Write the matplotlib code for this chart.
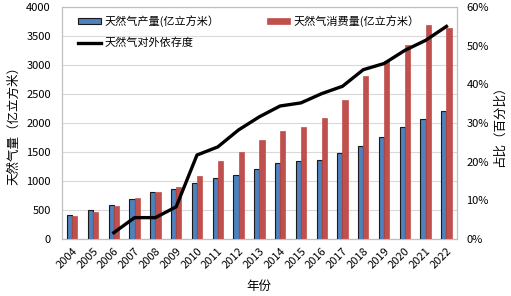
import matplotlib
matplotlib.use("Agg")
import matplotlib.pyplot as plt
import numpy as np

plt.rcParams['font.family'] = ['Noto Sans CJK SC', 'DejaVu Sans']

# data
years = [str(y) for y in range(2004, 2023)]
production = [415, 493, 585, 692, 803, 853, 957, 1053, 1106, 1209, 1302,
              1346, 1369, 1480, 1602, 1762, 1925, 2076, 2201]
consumption = [397, 467, 573, 705, 813, 895, 1080, 1341, 1497, 1705, 1868,
               1932, 2078, 2394, 2817, 3064, 3340, 3690, 3646]
dep_years = years[2:]
dependence = [1.6, 5.5, 5.5, 8.3, 21.7, 23.8, 28.2, 31.6, 34.4, 35.2, 37.6,
              39.5, 43.8, 45.4, 48.8, 51.4, 55.0]

fig = plt.figure(figsize=(5.11, 2.96), dpi=100)
ax = fig.add_axes([0.121, 0.193, 0.773, 0.783])

x = np.arange(len(years))
w = 0.25
b1 = ax.bar(x - w / 2, production, w, color='#4F81BD', edgecolor='#1a1a1a',
            linewidth=0.8, label='天然气产量(亿立方米）', zorder=3)
b2 = ax.bar(x + w / 2, consumption, w, color='#C0504D', edgecolor='#C0504D',
            linewidth=0.5, label='天然气消费量(亿立方米）', zorder=3)

ax.set_xlim(-0.5, len(years) - 0.5)
ax.set_ylim(0, 4000)
ax.set_yticks(range(0, 4001, 500))
ax.yaxis.grid(True, color='#d9d9d9', linewidth=0.8, zorder=0)
ax.set_xticks(x)
ax.set_xticklabels(years, rotation=45, ha='right', rotation_mode='anchor', fontsize=8)
ax.tick_params(axis='y', labelsize=8, length=0, pad=8)
ax.tick_params(axis='x', length=0, pad=5)
for s in ax.spines.values():
    s.set_color('#bfbfbf')
ax.set_ylabel('天然气量（亿立方米）', fontsize=9, labelpad=4)
ax.set_xlabel('年份', fontsize=9, labelpad=7)

ax2 = ax.twinx()
ln, = ax2.plot([years.index(y) for y in dep_years], dependence, color='black',
               linewidth=2.4, label='天然气对外依存度', zorder=4)
ax2.set_ylim(0, 60)
ax2.set_yticks(range(0, 61, 10))
ax2.set_yticklabels([f'{v}%' for v in range(0, 61, 10)])
ax2.tick_params(axis='y', labelsize=8, length=0, pad=7)
for s in ax2.spines.values():
    s.set_color('#bfbfbf')
ax2.set_ylabel('占比（百分比）', fontsize=9, labelpad=3)

ax2.legend([b1, ln, b2], ['天然气产量(亿立方米）', '天然气对外依存度', '天然气消费量(亿立方米）'],
           ncol=2, loc='upper left', bbox_to_anchor=(0.02, 1.0), frameon=False,
           fontsize=8, handlelength=2.1, handleheight=0.45, handletextpad=0.3,
           columnspacing=4.3, labelspacing=1.0, borderaxespad=0.3)

fig.savefig('out.png', dpi=100)
